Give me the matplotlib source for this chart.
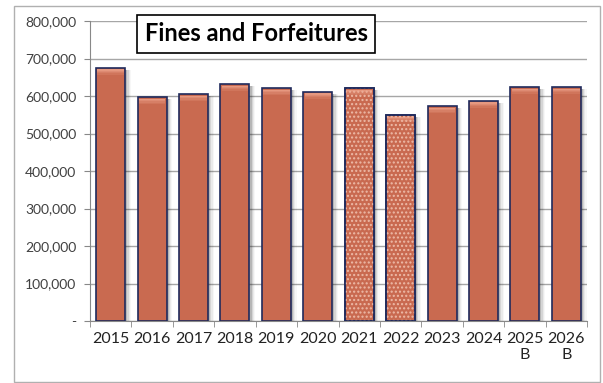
import matplotlib.pyplot as plt
from matplotlib.patches import Rectangle
import numpy as np

years = ["2015", "2016", "2017", "2018", "2019", "2020", "2021", "2022",
         "2023", "2024", "2025\nB", "2026\nB"]
fines = [675000, 597000, 605000, 632000, 621000, 611000, 621000, 549000,
         573000, 587000, 624000, 624000]
dotted = ["2021", "2022"]

bar_color = "#C96A50"
edge_color = "#1F2A5C"

plt.rcParams["font.family"] = ["Lato", "DejaVu Sans"]

fig = plt.figure(figsize=(6.03, 3.83), dpi=100)
ax = fig.add_axes([90 / 603, 1 - 321 / 383, 497 / 603, 300 / 383])

x = np.arange(len(years))
w = 0.7

# soft shadow to the right of each bar
for i, v in enumerate(fines):
    for k, a in enumerate([0.14, 0.09, 0.05, 0.03]):
        ax.add_patch(Rectangle((x[i] - w / 2 + 0.05 + k * 0.03, 0), w, v - 5000,
                               facecolor="black", alpha=a, lw=0, zorder=2))

for i, v in enumerate(fines):
    ax.bar(x[i], v, width=w, color=bar_color, edgecolor=edge_color,
           linewidth=1.2, zorder=3)
    if years[i] in dotted:
        ax.bar(x[i], v, width=w, color="none", edgecolor="#EDBBA8",
               hatch="....", linewidth=0, zorder=4)
        ax.bar(x[i], v, width=w, color="none", edgecolor=edge_color,
               linewidth=1.2, zorder=5)
    # lighter rounded top fading into the bar colour
    for k, a in enumerate([0.75, 0.55, 0.35, 0.18]):
        ax.add_patch(Rectangle((x[i] - w / 2 + 0.03, v - 4000 - (k + 1) * 3500),
                               w - 0.06, 3500, facecolor="#F0A890", alpha=a,
                               lw=0, zorder=4))

ax.set_xlim(-0.5, len(years) - 0.5)
ax.set_ylim(0, 800000)
ax.set_yticks(np.arange(0, 800001, 100000))
ax.set_yticklabels(["-"] + [f"{v:,}" for v in range(100000, 800001, 100000)],
                   color="#404040", fontsize=10)
ax.set_xticks(x)
ax.set_xticklabels(years, fontsize=11.5, color="#222222")
ax.set_xticks(np.arange(-0.5, len(years)), minor=True)
ax.tick_params(axis="x", which="major", length=0, pad=8)
ax.tick_params(axis="x", which="minor", length=4, color="#888888")
ax.tick_params(axis="y", length=4, color="#888888", pad=6)

ax.grid(axis="y", color="#A6A6A6", linewidth=1.0, zorder=0)
ax.set_axisbelow(True)
for s in ["top", "right"]:
    ax.spines[s].set_visible(False)
ax.spines["left"].set_color("#888888")
ax.spines["bottom"].set_color("#888888")

ax.text(0.82, 766000, "Fines and Forfeitures", fontsize=17, fontweight="bold",
        va="center", ha="left", zorder=6,
        bbox=dict(boxstyle="square,pad=0.32", facecolor="white",
                  edgecolor="black", linewidth=1.2))

# outer chart border
fig.add_artist(Rectangle((14 / 603, 1 / 383), 586 / 603, 376 / 383,
                         transform=fig.transFigure, fill=False,
                         edgecolor="#B0B0B0", linewidth=1.0))

fig.savefig("out.png", dpi=100)
